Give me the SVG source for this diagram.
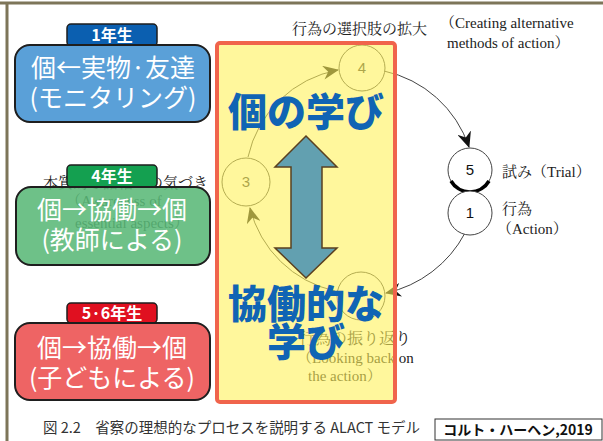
<svg xmlns="http://www.w3.org/2000/svg" width="603" height="441" viewBox="0 0 603 441">
<defs>
<style>
.serif{font-family:"Liberation Serif","Noto Serif CJK JP","Noto Sans CJK JP",serif;fill:#222;}
.jser{font-family:"Noto Serif CJK JP","Noto Sans CJK JP",serif;fill:#222;}
.num{font-family:"Liberation Sans","Noto Sans",sans-serif;font-size:15px;text-anchor:middle;}
.box{stroke:#1e1e1e;stroke-width:2;}
.boxt{font-family:"Noto Sans CJK JP",sans-serif;font-size:25px;fill:#fff;text-anchor:middle;}
.lab{stroke:#1e1e1e;stroke-width:1.5;}
.labt{font-family:"Noto Sans CJK JP",sans-serif;font-size:16px;font-weight:bold;fill:#fff;text-anchor:middle;}
.big{font-family:"Noto Sans CJK JP",sans-serif;font-size:39px;font-weight:900;fill:#1064b4;text-anchor:middle;}
.cyc{fill:#fff;stroke:#444;stroke-width:1;}
.arc{fill:none;stroke:#444;stroke-width:1;marker-end:url(#ah);}
</style>
<marker id="ah" markerUnits="userSpaceOnUse" markerWidth="16" markerHeight="14" refX="15" refY="7" orient="auto" viewBox="0 0 16 14">
<path d="M0,0 L16,7 L0,14 L5,7 z" fill="#111"/>
</marker>
</defs>
<rect width="603" height="441" fill="#fff"/>
<g id="frame">
<line x1="0" y1="3" x2="603" y2="3" stroke="#7d7559" stroke-width="3"/>
<line x1="7" y1="3" x2="7" y2="441" stroke="#7d7559" stroke-width="3"/>
</g>
<g id="connectors">
<path class="arc" d="M248,157 A113,113 0 0 1 338,70"/>
<path class="arc" d="M384,71 A115,115 0 0 1 469,147"/>
<path class="arc" d="M465,233 A118,118 0 0 1 386,293"/>
<path class="arc" d="M335,291 A113,113 0 0 1 250,208"/>
</g>
<g id="node-4"><circle class="cyc" cx="362" cy="68" r="23"/><text class="num" x="362" y="73" fill="#333">4</text></g>
<g id="node-3"><circle class="cyc" cx="246" cy="182" r="24"/><text class="num" x="246" y="187" fill="#333">3</text></g>
<g id="node-2"><circle class="cyc" cx="361" cy="296" r="24"/></g>
<g id="node-5"><circle class="cyc" cx="470" cy="170" r="22"/><path d="M489,181 A22,22 0 0 1 451,181" fill="none" stroke="#000" stroke-width="3.5"/><text class="num" x="470" y="175" fill="#111">5</text></g>
<g id="node-1"><circle class="cyc" cx="470" cy="213" r="22"/><text class="num" x="470" y="218" fill="#111">1</text></g>
<g id="labels-book">
<text class="jser" x="292" y="34" font-size="15">行為の選択肢の拡大</text>
<text class="serif" x="440" y="28" font-size="15">（Creating alternative</text>
<text class="serif" x="447" y="48" font-size="15">methods of action）</text>
<text class="jser" x="502" y="177" font-size="15">試み<tspan class="serif">（Trial）</tspan></text>
<text class="jser" x="502" y="214" font-size="15">行為</text>
<text class="serif" x="497" y="234" font-size="15">（Action）</text>
<text class="jser" x="43" y="188" font-size="15">本質的な諸相への気づき</text>
<text class="serif" x="66" y="206" font-size="15">（Awareness of</text>
<text class="serif" x="75" y="228" font-size="15">essential aspects）</text>
<text class="jser" x="299" y="344" font-size="16">行為の振り返り</text>
<text class="serif" x="297" y="363" font-size="15">（Looking back on</text>
<text class="serif" x="308" y="381" font-size="15">the action）</text>
</g>
<g id="overlay">
<rect x="217" y="43" width="178" height="359" rx="3" fill="#fff25a" opacity="0.6"/>
<rect x="217" y="43" width="178" height="359" rx="3" fill="none" stroke="#f0644c" stroke-width="4"/>
</g>
<g id="box-1">
<rect class="lab" x="67" y="24" width="90" height="22" rx="4" fill="#0b5fb0"/>
<text class="labt" x="112" y="41">1年生</text>
<rect class="box" x="15" y="45" width="195" height="77" rx="15" fill="#5aa0d8"/>
<text class="boxt" x="113" y="77">個←実物·友達</text>
<text class="boxt" x="113" y="107">(モニタリング)</text>
</g>
<g id="box-4">
<rect class="lab" x="67" y="165" width="90" height="22" rx="4" fill="#14a050"/>
<text class="labt" x="112" y="182">4年生</text>
<rect class="box" x="16" y="187" width="194" height="78" rx="15" fill="#5ab878" fill-opacity="0.88"/>
<text class="boxt" x="112" y="219">個→協働→個</text>
<text class="boxt" x="112" y="249">(教師による)</text>
</g>
<g id="box-56">
<rect class="lab" x="67" y="303" width="90" height="20" rx="4" fill="#e01020"/>
<text class="labt" x="112" y="319">5·6年生</text>
<rect class="box" x="15" y="323" width="195" height="77" rx="15" fill="#ee6464"/>
<text class="boxt" x="112" y="357">個→協働→個</text>
<text class="boxt" x="112" y="387">(子どもによる)</text>
</g>
<g id="double-arrow">
<path d="M306,136 L337,167 L322,167 L322,248 L337,248 L306,278 L275,248 L291,248 L291,167 L275,167 Z" fill="#62a0b0" stroke="#5a4020" stroke-width="1.5" stroke-linejoin="miter"/>
</g>
<g id="big-labels">
<text class="big" x="306" y="126">個の学び</text>
<text class="big" x="306" y="318">協働的な</text>
<text class="big" x="306" y="356">学び</text>
</g>
<g id="caption">
<text x="43" y="433" font-family="Noto Sans CJK JP,sans-serif" font-size="14.5" fill="#333" textLength="377" lengthAdjust="spacingAndGlyphs">図 2.2　省察の理想的なプロセスを説明する ALACT モデル</text>
</g>
<g id="credit">
<rect x="435" y="419" width="167" height="21" fill="#fff" stroke="#333" stroke-width="1"/>
<text x="518" y="435" font-family="Noto Sans CJK JP,sans-serif" font-size="14" font-weight="bold" fill="#111" text-anchor="middle">コルト・ハーヘン,2019</text>
</g>
</svg>
